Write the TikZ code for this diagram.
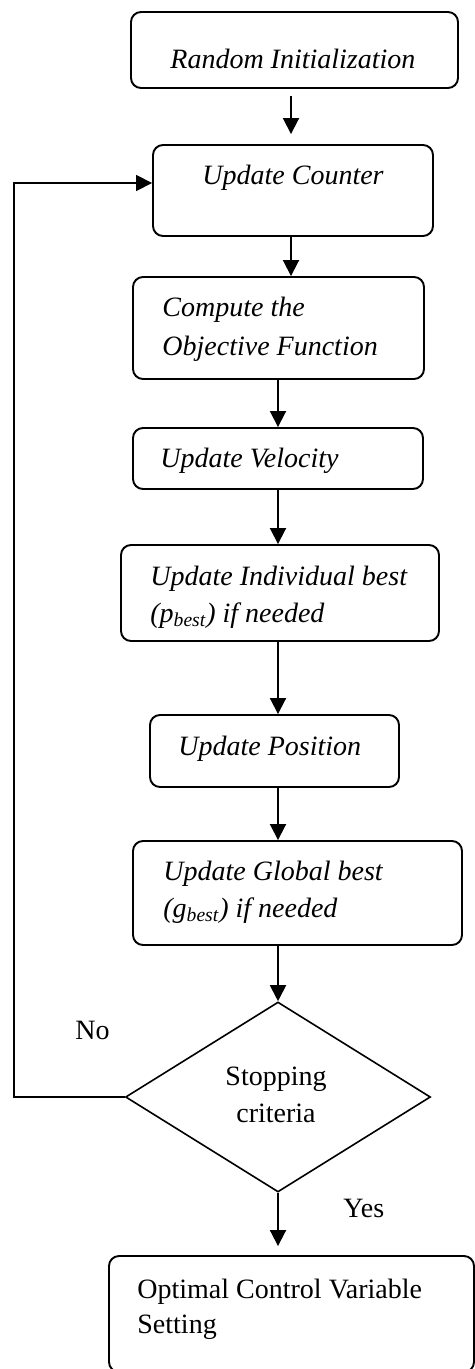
\documentclass[tikz,border=0pt]{standalone}
\usepackage{fontspec}
\setmainfont{Liberation Serif}
\usetikzlibrary{shapes.geometric,arrows.meta}
\begin{document}
\begin{tikzpicture}[x=0.5pt,y=-0.5pt,
  box/.style={draw,rounded corners=5pt,line width=0.95pt,inner sep=0pt},
  arr/.style={-{Triangle[length=8pt,width=8pt]},line width=0.95pt},
  itxt/.style={font=\fontsize{14}{18}\selectfont\itshape,inner sep=0pt,anchor=base west},
  rtxt/.style={font=\fontsize{14}{18}\selectfont,inner sep=0pt,anchor=base west},
  ctxt/.style={font=\fontsize{14}{18}\selectfont,inner sep=0pt,anchor=base}]
\useasboundingbox (0,0) rectangle (475,1369);
\clip (0,0) rectangle (475,1369);
% boxes
\node[box,minimum width=163.5pt,minimum height=38pt] (b1) at (294.5,50) {};
\node[box,minimum width=140pt,minimum height=45.5pt] (b2) at (293,190.5) {};
\node[box,minimum width=145.5pt,minimum height=51pt] (b3) at (278.5,328) {};
\node[box,minimum width=145pt,minimum height=30.5pt] (b4) at (278,458.5) {};
\node[box,minimum width=159pt,minimum height=48pt] (b5) at (280,593) {};
\node[box,minimum width=124.5pt,minimum height=36pt] (b6) at (274.5,751) {};
\node[box,minimum width=164.5pt,minimum height=52pt] (b7) at (297.5,893) {};
\node[draw,diamond,line width=0.8pt,inner sep=0pt,minimum width=152.5pt,minimum height=95pt] (dec) at (278,1097) {};
\node[box,minimum width=182.5pt,minimum height=58pt] (b8) at (291.5,1314) {};
% texts
\node[itxt] (t1) at (170,69) {Random Initialization};
\node[itxt] (t2) at (202,185) {Update Counter};
\node[itxt] (t3a) at (162,317) {Compute the};
\node[itxt] (t3b) at (162,356) {Objective Function};
\node[itxt] (t4) at (160,467) {Update Velocity};
\node[itxt] (t5a) at (150,585) {Update Individual best};
\node[itxt] (t5b) at (150,622) {(p\textsubscript{best}) if needed};
\node[itxt] (t6) at (178,755) {Update Position};
\node[itxt] (t7a) at (163,880) {Update Global best};
\node[itxt] (t7b) at (163,917) {(g\textsubscript{best}) if needed};
\node[ctxt] (tda) at (276,1085) {Stopping};
\node[ctxt] (tdb) at (276,1122) {criteria};
\node[rtxt] (no) at (75,1039) {No};
\node[rtxt] (yes) at (343,1217) {Yes};
\node[rtxt] (t8a) at (137,1298) {Optimal Control Variable};
\node[rtxt] (t8b) at (137,1333) {Setting};
% columns
\coordinate (colA) at (291,0);
\coordinate (colB) at (278,0);
\coordinate (fbx) at (14,0);
% arrows
\draw[arr,shorten <=3.5pt,shorten >=5pt] (b1.south -| colA) -- (b2.north -| colA);
\draw[arr] (b2.south -| colA) -- (b3.north -| colA);
\draw[arr] (b3.south -| colB) -- (b4.north -| colB);
\draw[arr] (b4.south -| colB) -- (b5.north -| colB);
\draw[arr] (b5.south -| colB) -- (b6.north -| colB);
\draw[arr] (b6.south -| colB) -- (b7.north -| colB);
\draw[arr] (b7.south -| colB) -- (dec.north);
\draw[arr,shorten >=4.5pt] (dec.south) -- (b8.north -| colB);
\draw[arr,line width=0.85pt] (dec.west) -- (dec.west -| fbx) -- ([yshift=3.75pt]b2.west -| fbx) -- ([yshift=3.75pt]b2.west);
\end{tikzpicture}
\end{document}
